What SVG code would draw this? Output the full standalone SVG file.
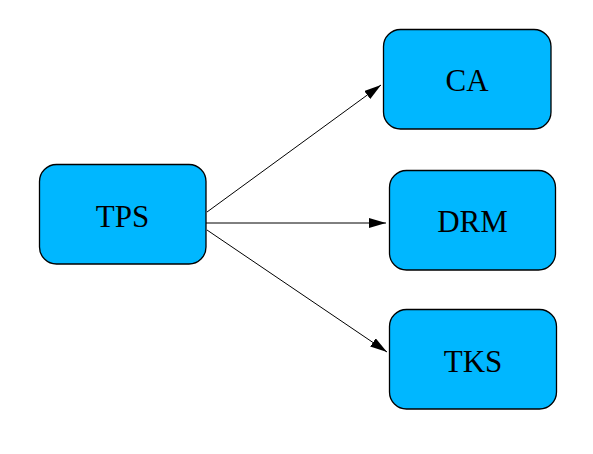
<svg xmlns="http://www.w3.org/2000/svg" width="593" height="454" viewBox="0 0 593 454">
<style>
.node rect{fill:#00b7ff;stroke:#000;stroke-width:1.3}
.node text{font-family:"Liberation Serif","Times New Roman",serif;font-size:31px;fill:#000;text-anchor:middle}
.edge{stroke:#000;stroke-width:1;fill:none}
</style>
<defs>
<marker id="arr" viewBox="0 0 17 10" refX="17" refY="5" markerWidth="17" markerHeight="10" markerUnits="userSpaceOnUse" orient="auto">
<path d="M0,0 L17,5 L0,10 Z" fill="#000"/>
</marker>
</defs>
<rect width="593" height="454" fill="#fff"/>
<g id="connectors">
<line class="edge" x1="207" y1="212" x2="381" y2="85" marker-end="url(#arr)"/>
<line class="edge" x1="206" y1="223" x2="386" y2="223" marker-end="url(#arr)"/>
<line class="edge" x1="207" y1="230" x2="387" y2="352" marker-end="url(#arr)"/>
</g>
<g id="TPS" class="node">
<rect x="39.5" y="164.5" width="166.5" height="99.5" rx="17" ry="17"/>
<text x="122.5" y="227">TPS</text>
</g>
<g id="CA" class="node">
<rect x="383.5" y="29.5" width="167.5" height="99.5" rx="17" ry="17"/>
<text x="467" y="91">CA</text>
</g>
<g id="DRM" class="node">
<rect x="389.5" y="170.5" width="166" height="99.5" rx="17" ry="17"/>
<text x="472.5" y="232">DRM</text>
</g>
<g id="TKS" class="node">
<rect x="389.5" y="309.5" width="167" height="99.5" rx="17" ry="17"/>
<text x="473" y="372">TKS</text>
</g>
</svg>
